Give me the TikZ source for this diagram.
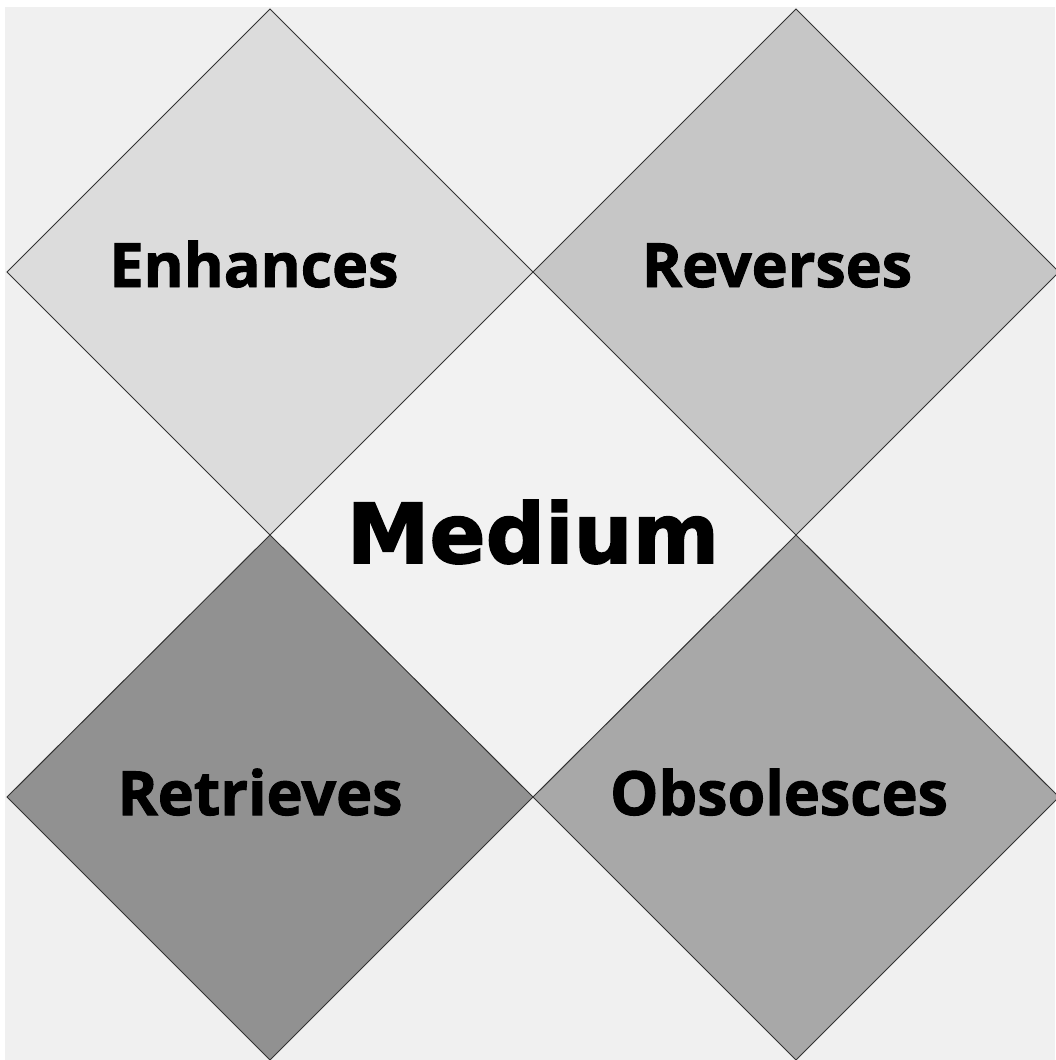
\documentclass[tikz,border=0pt]{standalone}
\usepackage{fontspec}
\setmainfont{Open Sans}[BoldFeatures={FakeBold=1.6}]
\newfontfamily\medfont{DejaVu Sans}[BoldFeatures={FakeBold=1.8}]
\usetikzlibrary{shapes.geometric}
\definecolor{bgc}{HTML}{F0F0F0}
\definecolor{midc}{HTML}{F2F2F2}
\definecolor{tlc}{HTML}{DCDCDC}
\definecolor{trc}{HTML}{C6C6C6}
\definecolor{blc}{HTML}{919191}
\definecolor{brc}{HTML}{A8A8A8}
\begin{document}
\begin{tikzpicture}[x=1pt,y=-1pt,
  dia/.style={draw=black!80,line width=1pt,line join=miter},
  lab/.style={font=\bfseries\fontsize{61}{61}\selectfont,anchor=base,inner sep=0pt},
  medlab/.style={font=\medfont\bfseries\fontsize{83}{83}\selectfont,anchor=base,inner sep=0pt}]
\useasboundingbox (0,0) rectangle (1055,1060);
\fill[white] (0,0) rectangle (1055,1060);
\fill[bgc] (5,7) rectangle (1055,1060);
\fill[midc] (533,272) -- (796,535) -- (533,797) -- (270,535) -- cycle;
\filldraw[dia,fill=tlc] (270,9) -- (533,272) -- (270,535) -- (7,272) -- cycle;
\filldraw[dia,fill=trc] (796,9) -- (1059,272) -- (796,535) -- (533,272) -- cycle;
\filldraw[dia,fill=blc] (270,535) -- (533,797) -- (270,1060) -- (7,797) -- cycle;
\filldraw[dia,fill=brc] (796,535) -- (1059,797) -- (796,1060) -- (533,797) -- cycle;
\node[lab] (enh) at (254,287) {Enhances};
\node[lab] (rev) at (777,287) {Reverses};
\node[lab] (ret) at (260,815) {Retrieves};
\node[lab] (obs) at (779,815) {Obsolesces};
\node[medlab] (med) at (533,563) {Medium};
\end{tikzpicture}
\end{document}
